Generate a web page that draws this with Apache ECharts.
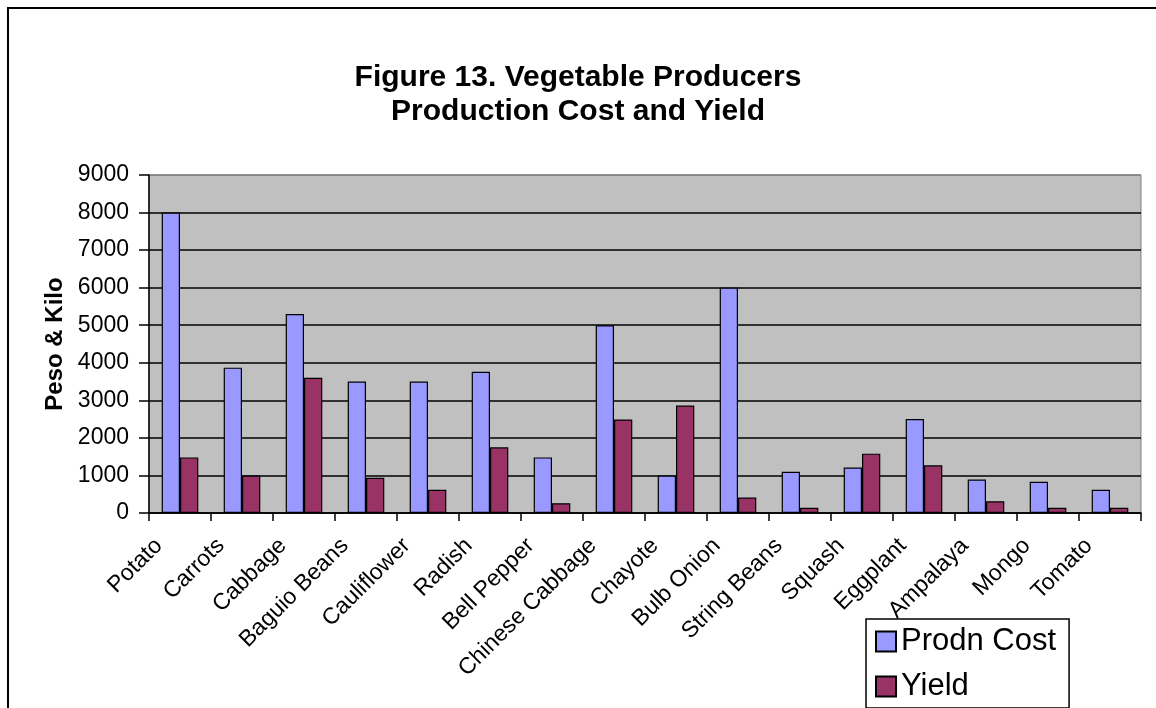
<!DOCTYPE html>
<html>
<head>
<meta charset="utf-8">
<script src="https://cdn.jsdelivr.net/npm/echarts@6/dist/echarts.min.js"></script>
<style>
html,body{margin:0;padding:0;background:#fff;}
#chart{width:1156px;height:708px;}
</style>
</head>
<body>
<div id="chart"></div>
<script>
const categories = ['Potato','Carrots','Cabbage','Baguio Beans','Cauliflower','Radish','Bell Pepper','Chinese Cabbage','Chayote','Bulb Onion','String Beans','Squash','Eggplant','Ampalaya','Mongo','Tomato'];
const prodnCost = [8000,3870,5300,3500,3500,3760,1480,5000,1000,6000,1100,1210,2500,890,830,620];
const yieldValues = [1480,1000,3600,940,620,1750,260,2490,2860,410,140,1580,1270,310,140,140];
const yTicks = [0,1000,2000,3000,4000,5000,6000,7000,8000,9000];
const titleText = 'Figure 13. Vegetable Producers\nProduction Cost and Yield';
const yAxisName = 'Peso & Kilo';
const seriesNames = ['Prodn Cost','Yield'];

const FONT = "'Liberation Sans', Arial, sans-serif";
const chart = echarts.init(document.getElementById('chart'), null, {renderer:'canvas'});
const splitColors = yTicks.map((v,i)=> i === yTicks.length-1 ? '#808080' : '#000000');

chart.setOption({
  animation:false,
  backgroundColor:'#ffffff',
  graphic:[{
    type:'rect', z:-10, silent:true,
    shape:{x:8,y:8,width:1300,height:900},
    style:{fill:'none',stroke:'#000',lineWidth:2}
  }],
  title:{
    text:titleText,
    left:'center', top:56,
    textStyle:{fontFamily:FONT,fontWeight:'bold',fontSize:30,lineHeight:34,color:'#000'}
  },
  legend:{
    orient:'vertical',
    left:866, top:619,
    padding:[7,13,6,9],
    itemGap:14,
    itemWidth:20, itemHeight:20,
    icon:'rect',
    backgroundColor:'#fff',
    borderColor:'#000', borderWidth:1.5, borderRadius:0,
    textStyle:{fontFamily:FONT,fontSize:31,lineHeight:31,color:'#000'},
    data:seriesNames
  },
  grid:{
    left:149, right:15, top:175, bottom:195,
    show:true, backgroundColor:'#C0C0C0', borderColor:'#808080', borderWidth:1,
    containLabel:false, outerBoundsMode:'none'
  },
  xAxis:{
    type:'category', data:categories,
    axisLine:{show:true,lineStyle:{color:'#000',width:1.5}},
    axisTick:{show:true,inside:false,length:8,lineStyle:{color:'#000',width:1.5}},
    axisLabel:{rotate:45,interval:0,margin:8,padding:[0,30,0,0],fontFamily:FONT,fontSize:23,color:'#000'},
    splitLine:{show:false}
  },
  yAxis:{
    type:'value', min:0, max:9000, interval:1000,
    name:yAxisName, nameLocation:'middle', nameRotate:90, nameGap:80,
    nameTextStyle:{fontFamily:FONT,fontWeight:'bold',fontSize:24,color:'#000'},
    axisLine:{show:true,lineStyle:{color:'#000',width:1.5}},
    axisTick:{show:true,inside:false,length:10,lineStyle:{color:'#000',width:1.5}},
    axisLabel:{margin:20,fontFamily:FONT,fontSize:23,color:'#000',formatter:function(v){return String(v);}},
    splitLine:{show:true,lineStyle:{color:splitColors,width:1.5}}
  },
  series:[
    {name:seriesNames[0],type:'bar',data:prodnCost,barGap:'0%',barCategoryGap:'41%',
     itemStyle:{color:'#9999FF',borderColor:'#000',borderWidth:1.2}},
    {name:seriesNames[1],type:'bar',data:yieldValues,barGap:'0%',barCategoryGap:'41%',
     itemStyle:{color:'#993366',borderColor:'#000',borderWidth:1.2}}
  ]
});
</script>
</body>
</html>
